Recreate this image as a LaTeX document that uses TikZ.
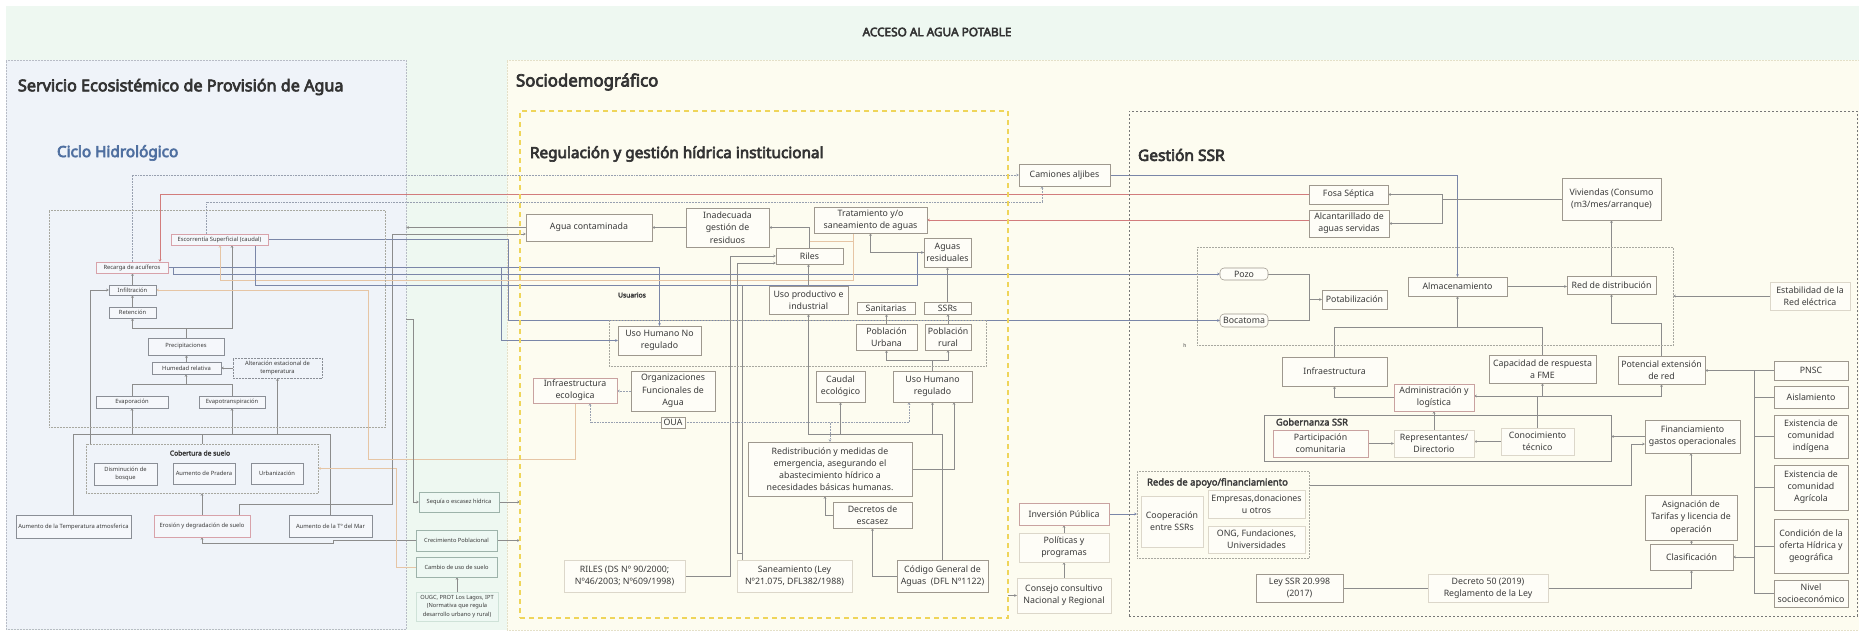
\documentclass[tikz,border=0pt]{standalone}
\usepackage{fontspec}
\setmainfont{Noto Sans}[BoldFont={Noto Sans},BoldFeatures={FakeBold=2.8}]
\newfontfamily\hdfont{Noto Sans}[FakeBold=4.2]
\usetikzlibrary{arrows.meta}
\pgfdeclarelayer{back}
\pgfdeclarelayer{lines}
\pgfsetlayers{back,lines,main}
\definecolor{bggreen}{HTML}{EEF8F1}
\definecolor{bgblue}{HTML}{EFF3F9}
\definecolor{bgcream}{HTML}{FDFCF0}
\definecolor{panelline}{HTML}{B8BCC6}
\definecolor{creamline}{HTML}{E4E0C8}
\definecolor{gold}{HTML}{EFD55A}
\definecolor{txt}{HTML}{3A3A3A}
\definecolor{hdc}{HTML}{333333}
\definecolor{ciclo}{HTML}{4F6FA0}
\definecolor{lnk}{HTML}{8C8C8C}
\definecolor{lnkb}{HTML}{7A86A8}
\definecolor{lnkr}{HTML}{D27C7C}
\definecolor{lnkt}{HTML}{E6C5A5}
\definecolor{lnkd}{HTML}{98A0B0}
\definecolor{bxd}{HTML}{9E988E}
\definecolor{bxp}{HTML}{C9A2A0}
\definecolor{bxl}{HTML}{DCD7CA}
\definecolor{lpd}{HTML}{8A8E96}
\definecolor{lpp}{HTML}{D8A2AA}
\definecolor{lpfill}{HTML}{F5F7FB}
\definecolor{gsline}{HTML}{9DB3AA}
\definecolor{gslight}{HTML}{CFE2D8}
\definecolor{gsfill}{HTML}{EEF8F3}
\definecolor{nodefill}{HTML}{FEFDF7}
\definecolor{dboxc}{HTML}{A8A8A0}
\definecolor{ssrc}{HTML}{777777}
\definecolor{govc}{HTML}{8A8A8A}
% box from corner (x1,y1) to (x2,y2), y grows downwards
\newcommand{\bxx}[7][]{\node[#1, minimum width={#5-#3}, minimum height={#6-#4}] (#2) at ({(#3+#5)/2},{(#4+#6)/2}) {#7};}
\begin{document}
\begin{tikzpicture}[x=1pt,y=-1pt,>={Stealth[length=2.8pt,width=2.6pt]},
  every node/.style={text=txt, align=center, inner sep=0pt, outer sep=0pt},
  panelL/.style={draw=panelline, densely dotted, fill=bgblue, line width=0.5pt},
  panelS/.style={draw=creamline, densely dotted, fill=bgcream, line width=0.5pt},
  lp/.style={draw=lpd, fill=lpfill, line width=0.45pt, font=\fontsize{5.8}{8.2}\selectfont},
  lpk/.style={lp, draw=lpp},
  lpdot/.style={lp, densely dotted, fill=none},
  gs/.style={draw=gsline, fill=gsfill, line width=0.5pt, font=\fontsize{5.7}{8.2}\selectfont},
  mn/.style={draw=bxd, fill=nodefill, line width=0.55pt, font=\fontsize{8.8}{12.2}\selectfont},
  mnp/.style={mn, draw=bxp},
  mnl/.style={mn, draw=bxl},
  rnd/.style={mn, rounded corners=4pt},
  dbox/.style={draw=dboxc, densely dotted, line width=0.5pt, fill=none},
  regb/.style={draw=gold, dash pattern=on 5pt off 4pt, line width=1.3pt, fill=none},
  ssrb/.style={draw=ssrc, dash pattern=on 2pt off 2pt, line width=0.7pt, fill=none},
  hd/.style={text=hdc, anchor=west},
  subt/.style={font=\fontsize{6.7}{8}\selectfont\bfseries},
  ln/.style={draw=lnk, line width=0.5pt},
  lnb/.style={draw=lnkb, line width=0.55pt},
  lnr/.style={draw=lnkr, line width=0.55pt},
  lnt/.style={draw=lnkt, line width=0.65pt},
  lnd/.style={draw=lnkd, line width=0.55pt, densely dotted}]
\useasboundingbox (0,0) rectangle (1859,630);
\begin{pgfonlayer}{back}
\fill[bggreen] (6,6) rectangle (1859,630);
\bxx[panelL]{sepanel}{6}{60}{406}{629}{}
\bxx[panelS]{sopanel}{507}{60}{1859}{630}{}
\end{pgfonlayer}
% titles
\node[font=\hdfont\fontsize{11.8}{13}\selectfont, text=hdc] (ttl) at (937,32) {ACCESO AL AGUA POTABLE};
\node[hd, font=\hdfont\fontsize{16.2}{19}\selectfont] (t1) at (18,87) {Servicio Ecosistémico de Provisión de Agua};
\node[hd, font=\hdfont\fontsize{15.3}{18}\selectfont, text=ciclo] (t2) at (57,153) {Ciclo Hidrológico};
\node[hd, font=\hdfont\fontsize{16.8}{19}\selectfont] (t3) at (516,82) {Sociodemográfico};
\node[hd, font=\hdfont\fontsize{15.3}{18}\selectfont] (t4) at (530,154) {Regulación y gestión hídrica institucional};
\node[hd, font=\hdfont\fontsize{15.5}{18}\selectfont] (t5) at (1138,155) {Gestión SSR};
% containers
\bxx[regb]{regbox}{520}{111}{1008}{618}{}
\bxx[ssrb]{gestion}{1129}{111}{1857}{616}{}
\bxx[dbox]{hydro}{49}{210}{385}{427}{}
\bxx[dbox]{cobertura}{86}{444}{318}{493}{}
\bxx[dbox]{usuarios}{609}{320}{986}{366}{}
\bxx[dbox]{infbox}{1197}{247}{1673}{345}{}
\bxx[dbox]{redes}{1137}{471}{1309}{558}{}
\bxx[mn, fill=none, draw=govc]{gobern}{1264}{415}{1611}{461}{}
\node[subt] (cobtit) at (200,453) {Cobertura de suelo};
\node[subt] (usutit) at (632,295) {Usuarios};
\node[font=\fontsize{9.3}{10}\selectfont\bfseries, anchor=west] (govtit) at (1276,422) {Gobernanza SSR};
\node[font=\fontsize{9.5}{10}\selectfont\bfseries, anchor=west] (redtit) at (1147,483) {Redes de apoyo/financiamiento};
\node[font=\fontsize{5}{6}\selectfont] (hh) at (1185,346) {h};
% left panel
\bxx[lpk]{escorrentia}{171}{234}{268}{245}{Escorrentía Superficial (caudal)}
\bxx[lpk]{recarga}{96}{262}{168}{273}{Recarga de acuíferos}
\bxx[lp]{infiltracion}{109}{285}{156}{295}{Infiltración}
\bxx[lp]{retencion}{109}{307}{156}{318}{Retención}
\bxx[lp]{precip}{148}{338}{224}{355}{Precipitaciones}
\bxx[lp]{humedad}{152}{362}{221}{374}{Humedad relativa}
\bxx[lpdot]{alteracion}{233}{358}{322}{378}{Alteración estacional de\\temperatura}
\bxx[lp]{evapo}{96}{396}{168}{408}{Evaporación}
\bxx[lp]{evapotrans}{199}{396}{265}{408}{Evapotranspiración}
\bxx[lp]{bosque}{94}{463}{157}{485}{Disminución de\\bosque}
\bxx[lp]{pradera}{173}{463}{235}{484}{Aumento de Pradera}
\bxx[lp]{urban}{251}{463}{303}{484}{Urbanización}
\bxx[lp]{tempatm}{16}{515}{131}{538}{Aumento de la Temperatura atmosferica}
\bxx[lpk]{erosion}{154}{515}{250}{537}{Erosión y degradación de suelo}
\bxx[lp]{tmar}{289}{515}{372}{537}{Aumento de la Tº del Mar}
% green strip
\bxx[gs]{sequia}{419}{492}{499}{512}{Sequía o escasez hídrica}
\bxx[gs]{crec}{416}{530}{497}{551}{Crecimiento Poblacional}
\bxx[gs]{cambio}{416}{557}{497}{577}{Cambio de uso de suelo}
\bxx[gs, draw=gslight]{ougc}{416}{592}{498}{621}{OUGC, PROT Los Lagos, IPT\\(Normativa que regula\\desarrollo urbano y rural)}
% middle
\bxx[mn]{agua}{526}{214}{652}{241}{Agua contaminada}
\bxx[mn]{inadecuada}{686}{208}{769}{247}{Inadecuada\\gestión de\\residuos}
\bxx[mn]{trat}{814}{207}{927}{233}{Tratamiento y/o\\saneamiento de aguas}
\bxx[mn]{riles}{776}{248}{843}{264}{Riles}
\bxx[mn]{aguasres}{924}{238}{971}{267}{Aguas\\residuales}
\bxx[mn]{usoprod}{769}{286}{848}{314}{Uso productivo e\\industrial}
\bxx[mn]{sanit}{857}{302}{915}{314}{Sanitarias}
\bxx[mn]{ssrs}{924}{302}{971}{314}{SSRs}
\bxx[mn]{uhnr}{618}{326}{701}{355}{Uso Humano No\\regulado}
\bxx[mn]{pobu}{856}{324}{917}{350}{Población\\Urbana}
\bxx[mn]{pobr}{925}{324}{971}{350}{Población\\rural}
\bxx[mnp]{infraeco}{533}{378}{617}{403}{Infraestructura\\ecologica}
\bxx[mn]{ofa}{631}{371}{715}{411}{Organizaciones\\Funcionales de\\Agua}
\bxx[mn]{oua}{661}{417}{685}{428}{OUA}
\bxx[mn]{caudal}{816}{371}{865}{402}{Caudal\\ecológico}
\bxx[mn]{uhr}{893}{371}{972}{402}{Uso Humano\\regulado}
\bxx[mn]{redis}{748}{442}{912}{496}{Redistribución y medidas de\\emergencia, asegurando el\\abastecimiento hídrico a\\necesidades básicas humanas.}
\bxx[mn]{decretos}{833}{502}{912}{528}{Decretos de\\escasez}
\bxx[mnl]{rilesds}{564}{560}{685}{592}{RILES (DS Nº 90/2000;\\Nº46/2003; Nº609/1998)}
\bxx[mnl]{saneam}{737}{560}{852}{592}{Saneamiento (Ley\\Nº21.075, DFL382/1988)}
\bxx[mn]{codigo}{897}{560}{988}{592}{Código General de\\Aguas\ \ (DFL Nº1122)}
\bxx[mn]{camiones}{1019}{164}{1110}{186}{Camiones aljibes}
\bxx[mnp]{inversion}{1019}{503}{1109}{525}{Inversión Pública}
\bxx[mnl]{politicas}{1019}{533}{1109}{562}{Políticas y\\programas}
\bxx[mnl]{consejo}{1017}{578}{1111}{613}{Consejo consultivo\\Nacional y Regional}
% right
\bxx[mn]{fosa}{1309}{185}{1388}{204}{Fosa Séptica}
\bxx[mn]{alc}{1309}{210}{1389}{237}{Alcantarillado de\\aguas servidas}
\bxx[mn]{viviendas}{1562}{178}{1661}{220}{Viviendas (Consumo\\(m3/mes/arranque)}
\bxx[rnd]{pozo}{1220}{268}{1268}{280}{Pozo}
\bxx[rnd]{bocatoma}{1220}{314}{1268}{327}{Bocatoma}
\bxx[mn]{potab}{1322}{290}{1387}{309}{Potabilización}
\bxx[mn]{almac}{1408}{277}{1507}{296}{Almacenamiento}
\bxx[mn]{reddist}{1567}{276}{1656}{294}{Red de distribución}
\bxx[mnl]{estab}{1770}{282}{1850}{310}{Estabilidad de la\\Red eléctrica}
\bxx[mn]{infra}{1282}{357}{1387}{386}{Infraestructura}
\bxx[mn]{capac}{1489}{355}{1596}{383}{Capacidad de respuesta\\a FME}
\bxx[mn]{potencial}{1618}{356}{1705}{384}{Potencial extensión\\de red}
\bxx[mnp]{admin}{1394}{384}{1474}{411}{Administración y\\logística}
\bxx[mnp]{partic}{1273}{430}{1368}{457}{Participación\\comunitaria}
\bxx[mnl]{repres}{1394}{430}{1474}{457}{Representantes/\\Directorio}
\bxx[mnl]{conoc}{1501}{428}{1574}{455}{Conocimiento\\técnico}
\bxx[mn]{finan}{1645}{420}{1740}{453}{Financiamiento\\gastos operacionales}
\bxx[mn]{asign}{1645}{495}{1737}{540}{Asignación de\\Tarifas y licencia de\\operación}
\bxx[mn]{clasif}{1650}{544}{1733}{570}{Clasificación}
\bxx[mnl]{coop}{1141}{496}{1203}{547}{Cooperación\\entre SSRs}
\bxx[mnl]{empresas}{1208}{490}{1305}{518}{Empresas,donaciones\\u otros}
\bxx[mnl]{ong}{1208}{526}{1305}{553}{ONG, Fundaciones,\\Universidades}
\bxx[mn]{ley}{1256}{574}{1343}{602}{Ley SSR 20.998\\(2017)}
\bxx[mnl]{decreto50}{1428}{574}{1548}{602}{Decreto 50 (2019)\\Reglamento de la Ley}
\bxx[mn]{pnsc}{1774}{361}{1848}{380}{PNSC}
\bxx[mn]{aisl}{1774}{386}{1848}{408}{Aislamiento}
\bxx[mn]{indig}{1774}{415}{1848}{458}{Existencia de\\comunidad\\indígena}
\bxx[mn]{agric}{1774}{465}{1848}{510}{Existencia de\\comunidad\\Agrícola}
\bxx[mn]{condic}{1774}{519}{1848}{573}{Condición de la\\oferta Hídrica y\\geográfica}
\bxx[mn]{nivel}{1774}{580}{1848}{607}{Nivel\\socioeconómico}
% connectors
\begin{pgfonlayer}{lines}
\draw[ln,->] (retencion.north) -- (retencion.north |- infiltracion.south);
\draw[ln,->] (infiltracion.north) -- (infiltracion.north |- recarga.south);
\coordinate (jp1) at (186,328);
\draw[ln,->] (precip.north) -- (jp1) -| (retencion.south);
\draw[ln,->] (jp1) -| ([xshift=12.5pt]escorrentia.south);
\draw[ln,->] (humedad.north) -- (humedad.north |- precip.south);
\draw[ln,->] (alteracion.west) -- (humedad.east);
\coordinate (je) at (186,384);
\draw[ln,->] (evapo.north) |- (je) -- (je |- humedad.south);
\draw[ln] (evapotrans.north) |- (je);
\coordinate (jb) at (202,434);
\draw[ln] (tempatm.north) |- (jb);
\draw[ln] (tmar.north) |- (jb);
\draw[ln] (cobertura.north) -- (jb);
\draw[ln,->] (evapo.south |- jb) -- (evapo.south);
\draw[ln,->] (evapotrans.south |- jb) -- (evapotrans.south);
\draw[ln,->] (alteracion.south |- jb) -- (alteracion.south);
\draw[ln,->] ([xshift=-112pt]cobertura.north) |- (infiltracion.west);
\draw[ln,->] (erosion.north) -- (cobertura.south);
\draw[ln,->] (crec.west) -- (333,540.5) -- (333,543) -| (erosion.south);
\draw[lnt,->] (cambio.west) -| (396,468.5) -- (cobertura.east);
\draw[ln,->] (ougc.north) -- (ougc.north |- cambio.south);
\draw[ln,->] ([xshift=37pt]erosion.north) |- (392,504) |- ([yshift=-6.5pt]agua.west);
\draw[ln,->] (agua.west) -- (agua.west -| sepanel.east);
\draw[lnt,<-] (infiltracion.east) -| (368,459) -| (infraeco.south);
\draw[ln,->] ([yshift=25.5pt]sepanel.east) -- (413,319) |- (sequia.west);
\draw[ln,->] (sequia.east) -- (sequia.east -| regbox.west);
\draw[ln,->] (crec.east) -- (crec.east -| regbox.west);
\draw[lnd,->] (recarga.north) |- (camiones.west);
\draw[lnd,->] ([xshift=-13.5pt]escorrentia.north) |- (1042,202) -- ([xshift=-22.5pt]camiones.south);
\draw[lnr,->] (fosa.west) -| ([xshift=28pt]recarga.north);
\draw[lnr,->] (alc.west |- trat.east) -- (trat.east);
\draw[lnb,->] (recarga.east) -- (173,267.5) |- (pozo.west);
\draw[lnb,->] (recarga.east) -| (uhnr.north);
\draw[lnb,->] (501,267.5) |- (uhnr.west);
\draw[lnb,->] (escorrentia.east) -| (508,320.5) -- (bocatoma.west);
\draw[lnt,->] ([xshift=-17.5pt]trat.south) |- (220,280) -- ([xshift=0.5pt]escorrentia.south);
\draw[lnb,->] ([xshift=35.5pt]escorrentia.south) |- (917,285) |- (aguasres.west);
\draw[ln] ([xshift=-52.5pt]saneam.north) -- (742,285);
\draw[ln,->] ([xshift=-52.5pt]saneam.north) -- (742,553) -- (737,553) |- ([yshift=-7pt]riles.west);
\draw[ln,->] (rilesds.east) -| (730,256) -- (riles.west);
\draw[ln,->] (riles.north) |- (inadecuada.east);
\draw[ln,->] (inadecuada.west) -- (agua.east);
\draw[ln,->] (aguasres.west) -| (trat.south);
\draw[lnt] ([yshift=7pt]riles.north) -- (853,241);
\draw[ln,->] (usoprod.north) -- (usoprod.north |- riles.south);
\draw[ln,->] (ssrs.north) -- (aguasres.south);
\draw[ln,->] (pobu.north) -- (pobu.north |- sanit.south);
\draw[ln,->] (pobr.north) -- (pobr.north |- ssrs.south);
\coordinate (ju) at (932.5,360);
\draw[ln] (uhr.north) -- (ju);
\draw[ln,->] (ju) -| (pobu.south);
\draw[ln,->] (ju) -| (pobr.south);
\draw[lnd,->] (ofa.west) -- (ofa.west -| infraeco.east);
\draw[lnd,->] (oua.west) -| ([xshift=15pt]infraeco.south);
\draw[lnd,->] (oua.east) -| ([xshift=-23.5pt]uhr.south);
\coordinate (jo) at (830,422.5);
\draw[lnd,->] (jo) -- (redis.north);
\coordinate (jc) at (942.5,434);
\draw[ln] (codigo.north) -- (jc);
\draw[ln,->] (jc) -| (usoprod.south);
\draw[ln,->] (caudal.south |- jc) -- (caudal.south);
\draw[ln,->] (uhr.south |- jc) -- (uhr.south);
\draw[ln,->] (redis.east) -| ([xshift=21.5pt]uhr.south);
\draw[ln,->] (decretos.west) -| ([xshift=-5pt]redis.south);
\draw[ln,->] (codigo.west) -| (decretos.south);
\draw[ln,->] (consejo.west -| regbox.east) -- (consejo.west);
\draw[ln,->] (politicas.north) -- (inversion.south);
\draw[ln,->] (consejo.north) -- (politicas.south);
\draw[lnb,->] (inversion.east) -- (inversion.east -| redes.west);
\draw[ln,->] ([yshift=29.5pt]redes.east) -| (1631,444) -- ([yshift=-7.5pt]finan.west);
\draw[ln,->] (finan.west) -- (finan.west -| gobern.east);
\draw[ln,->] (asign.north) -- (asign.north |- finan.south);
\draw[ln,->] (clasif.north) -- (clasif.north |- asign.south);
\draw[ln,->] (decreto50.east) -| (clasif.south);
\draw[ln] (ley.east) -- (decreto50.west);
\coordinate (jf1) at (1754,370.5);
\coordinate (jf2) at (1754,593.5);
\draw[ln] (jf1) -- (jf2);
\foreach \n in {pnsc,aisl,indig,agric,condic,nivel} \draw[ln] (\n.west) -- (\n.west -| jf1);
\draw[ln,->] (jf1) -- (jf1 -| potencial.east);
\draw[ln,->] (jf1 |- clasif.east) -- (clasif.east);
\draw[ln,->] (estab.west) -- (estab.west -| infbox.east);
\coordinate (jp) at (1309,299.5);
\draw[ln] (pozo.east) -| (jp);
\draw[ln] (bocatoma.east) -| (jp);
\draw[ln,->] (jp) -- (potab.west);
\draw[ln,->] (almac.east) -- (almac.east -| reddist.west);
\draw[ln,->] (reddist.north) -- (reddist.north |- viviendas.south);
\coordinate (jr) at (1611.5,323);
\draw[ln,->] (potencial.north) |- (jr) -- (reddist.south);
\coordinate (ja) at (1457.5,327);
\draw[ln] (infra.north) |- (ja);
\draw[ln] (capac.north) |- (ja);
\draw[ln,->] (ja) -- (almac.south);
\draw[ln,->] (admin.west) -| (infra.south);
\coordinate (jk) at (1537.5,396);
\draw[ln] (conoc.north) -- (jk);
\draw[ln,->] (jk) -- (jk -| admin.east);
\draw[ln,->] (capac.south |- jk) -- (capac.south);
\draw[ln,->] (jk) -| (potencial.south);
\draw[ln,->] (repres.north) -- (admin.south);
\draw[ln,->] (partic.east) -- (repres.west);
\draw[ln,->] (conoc.west) -- (conoc.west -| repres.east);
\draw[lnb,->] (camiones.east) -| (almac.north);
\coordinate (jv) at (1442,199);
\draw[ln] (viviendas.west) -- (jv);
\draw[ln,->] (jv) |- (fosa.east);
\draw[ln,->] (jv) |- (alc.east);
\end{pgfonlayer}
\end{tikzpicture}
\end{document}
